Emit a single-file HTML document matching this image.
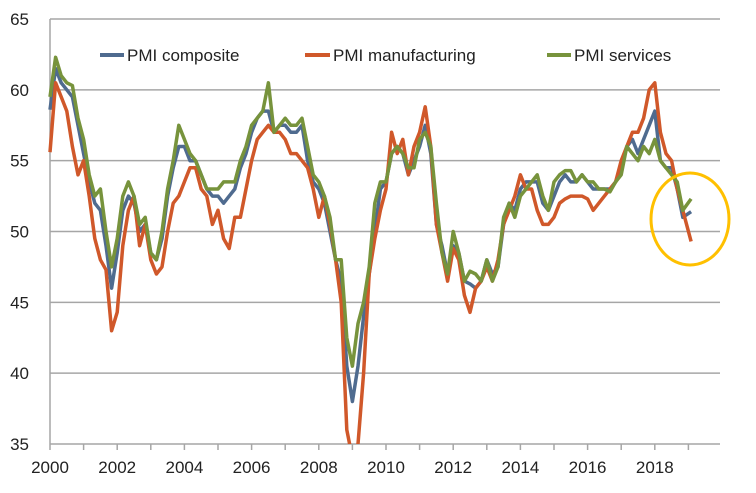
<!DOCTYPE html>
<html><head><meta charset="utf-8"><style>
body{margin:0;background:#fff;}
svg{display:block;font-family:"Liberation Sans",sans-serif;}
</style></head><body>
<svg id="chart" width="756" height="493" viewBox="0 0 756 493">
<g id="grid"></g>
<g id="axes"></g>
<g id="series"></g>
<g>
<line x1="100" y1="55" x2="124" y2="55" stroke="#4F6B8F" stroke-width="4"/>
<text x="127" y="61" font-size="17" fill="#222">PMI composite</text>
<line x1="305" y1="55" x2="330" y2="55" stroke="#D0582A" stroke-width="4"/>
<text x="333" y="61" font-size="17" fill="#222">PMI manufacturing</text>
<line x1="547" y1="55" x2="571" y2="55" stroke="#77933C" stroke-width="4"/>
<text x="574" y="61" font-size="17" fill="#222">PMI services</text>
</g>
<ellipse cx="690" cy="219" rx="39" ry="46" fill="none" stroke="#FFC000" stroke-width="3"/>
</svg>
<script>
const yTicks=[35,40,45,50,55,60,65];
const xTickLabels=[2000,2002,2004,2006,2008,2010,2012,2014,2016,2018];
const composite=[58.6,61.5,60.5,60,59.5,57.5, 55.5,53.5,52,51.5,49,46, 48.5,51.5,52.5,52,50,50.5, 48.5,48,49.5,52.5,54.5,56, 56,55,55,54,53,52.5, 52.5,52,52.5,53,54.5,55.5, 57,58,58.5,58.5,57,57.5, 57.5,57,57,57.5,55,53.5, 53,52,50,48,46.5,40.5, 38,40.5,44,47,50,53, 53.5,55.5,56,55.5,54,55, 56,57.5,55.5,50.5,49,47, 49,48.5,46.5,46.3,46,46.5, 48,47,47.5,50.5,52,51.5, 53,53.5,53.5,53.5,52,51.5, 52.5,53.5,54,53.5,53.5,54, 53.5,53,53,53,53,53.5, 54.5,56,56.5,55.5,56.5,57.5, 58.5,55,54.5,54.5,53,51, 51.4];
const manufacturing=[55.6,60.5,59.5,58.5,56,54, 55,52.5,49.5,48,47.3,43, 44.3,49,51.5,52.5,49,50.5, 48,47,47.5,50,52,52.5, 53.5,54.5,54.5,53,52.5,50.5, 51.5,49.5,48.8,51,51,53, 55,56.5,57,57.5,57,57, 56.5,55.5,55.5,55,54.5,53, 51,52.5,50.5,48,45,36, 34,35,40,47,49.5,51.5, 53,57,55.5,56.5,54,56, 57,58.8,56,50.5,48.5,46.5, 48.8,48,45.5,44.3,46,46.5, 47.5,46.5,48,50.5,51.5,52.5, 54,53,53,51.5,50.5,50.5, 51,52,52.3,52.5,52.5,52.5, 52.3,51.5,52,52.5,53,53.5, 55,56,57,57,58,60, 60.5,57,55.5,55,53,51.5, 49.3];
const services=[59.5,62.3,61,60.5,60.3,58, 56.5,54,52.5,53,50,47.5, 49.5,52.5,53.5,52.5,50.5,51, 48.5,48,50,53,55,57.5, 56.5,55.5,55,54,53,53, 53,53.5,53.5,53.5,55,56, 57.5,58,58.5,60.5,57,57.5, 58,57.5,57.5,58,56,54, 53.5,52.5,51,48,48,42.5, 40.5,43.5,45,47.5,52,53.5, 53.5,55.5,56,55.5,54.5,54.5, 56.5,57,56,52,48.5,47, 50,48.5,46.5,47.2,47,46.5, 48,46.5,47.5,51,52,51, 52.5,53,53.5,54,52.5,51.5, 53.5,54,54.3,54.3,53.5,54, 53.5,53.5,53,53,52.8,53.5, 54,56,55.5,55,56,55.5, 56.5,55,54.5,54,53.5,51.5, 52.3];
const NS="http://www.w3.org/2000/svg";
const X0=50,X1=720,Y0=444,PXY=33.6;
function xs(t){return X0+t*PXY;}
function ys(v){return Y0-(v-35)*(425/30);}
function tOf(i){return i<114?i/6:19.08;}
function mk(tag,attrs,parent){const e=document.createElementNS(NS,tag);for(const k in attrs)e.setAttribute(k,attrs[k]);parent.appendChild(e);return e;}
const grid=document.getElementById('grid'),axes=document.getElementById('axes'),ser=document.getElementById('series');
yTicks.forEach(v=>{
 if(v>35){const l=mk('line',{x1:X0,x2:X1,y1:ys(v),y2:ys(v),stroke:'#A6A6A6','stroke-width':1.5},grid);
 
 }
 const t=mk('text',{x:29,y:ys(v)+6,'text-anchor':'end','font-size':17,fill:'#222'},axes);
 t.textContent=v;
 
 
});
const ax=mk('line',{x1:X0,x2:X0,y1:ys(65),y2:Y0,stroke:'#A6A6A6','stroke-width':1.5},axes);


const bx=mk('line',{x1:X0,x2:X1,y1:Y0,y2:Y0,stroke:'#A6A6A6','stroke-width':1.5},axes);


for(let yr=0;yr<=19;yr++){const tk=mk('line',{x1:xs(yr),x2:xs(yr),y1:Y0,y2:Y0+6,stroke:'#A6A6A6','stroke-width':1.5},axes);
 
 }
xTickLabels.forEach(yr=>{const t=mk('text',{x:xs(yr-2000),y:473,'text-anchor':'middle','font-size':17,fill:'#222'},axes);
 t.textContent=yr;
 
 });
const clip=mk('clipPath',{id:'pc'},document.getElementById('chart'));
mk('rect',{x:0,y:0,width:756,height:Y0},clip);
[[composite,'#4F6B8F','composite'],[manufacturing,'#D0582A','manufacturing'],[services,'#77933C','services']].forEach(([d,c,n])=>{
 const pts=d.map((v,i)=>xs(tOf(i)).toFixed(1)+','+ys(v).toFixed(1)).join(' ');
 const p=mk('polyline',{points:pts,fill:'none',stroke:c,'stroke-width':3.5,'stroke-linejoin':'round','clip-path':'url(#pc)'},ser);
 
 
});
</script>
</body></html>
